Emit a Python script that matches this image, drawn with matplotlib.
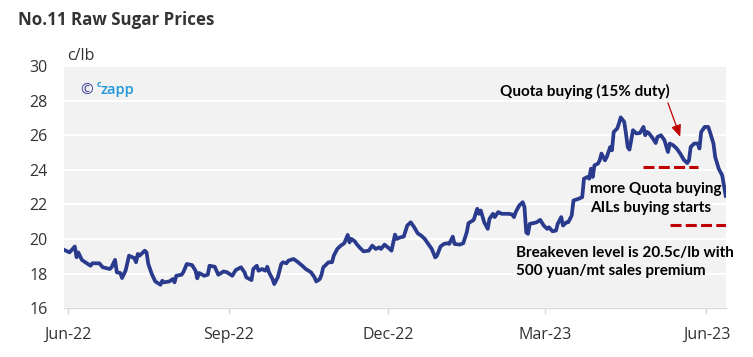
import matplotlib
matplotlib.use("Agg")
import matplotlib.pyplot as plt
import matplotlib.dates as mdates
import pandas as pd

# ---------------- data ----------------
dates = [
    "2022-05-30", "2022-06-02", "2022-06-05", "2022-06-06", "2022-06-07", "2022-06-09",
    "2022-06-11", "2022-06-14", "2022-06-15", "2022-06-19", "2022-06-21", "2022-06-25",
    "2022-06-26", "2022-06-28", "2022-06-29", "2022-07-01", "2022-07-02", "2022-07-04",
    "2022-07-06", "2022-07-09", "2022-07-10", "2022-07-11", "2022-07-12", "2022-07-15",
    "2022-07-16", "2022-07-17", "2022-07-19", "2022-07-21", "2022-07-24", "2022-07-25",
    "2022-07-26", "2022-07-29", "2022-07-31", "2022-08-01", "2022-08-02", "2022-08-05",
    "2022-08-06", "2022-08-08", "2022-08-11", "2022-08-13", "2022-08-14", "2022-08-15",
    "2022-08-18", "2022-08-20", "2022-08-21", "2022-08-24", "2022-08-26", "2022-08-29",
    "2022-08-31", "2022-09-03", "2022-09-05", "2022-09-08", "2022-09-10", "2022-09-11",
    "2022-09-14", "2022-09-15", "2022-09-17", "2022-09-18", "2022-09-20", "2022-09-22",
    "2022-09-23", "2022-09-24", "2022-09-26", "2022-09-27", "2022-09-29", "2022-10-01",
    "2022-10-02", "2022-10-04", "2022-10-05", "2022-10-08", "2022-10-10", "2022-10-13",
    "2022-10-15", "2022-10-18", "2022-10-20", "2022-10-21", "2022-10-23", "2022-10-24",
    "2022-10-25", "2022-10-26", "2022-10-28", "2022-10-30", "2022-10-31", "2022-11-02",
    "2022-11-04", "2022-11-06", "2022-11-08", "2022-11-09", "2022-11-10", "2022-11-12",
    "2022-11-13", "2022-11-15", "2022-11-17", "2022-11-20", "2022-11-22", "2022-11-24",
    "2022-11-26", "2022-11-27", "2022-11-29", "2022-12-02", "2022-12-03", "2022-12-05",
    "2022-12-06", "2022-12-08", "2022-12-10", "2022-12-12", "2022-12-14", "2022-12-16",
    "2022-12-18", "2022-12-20", "2022-12-22", "2022-12-24", "2022-12-26", "2022-12-28",
    "2022-12-29", "2022-12-31", "2023-01-02", "2023-01-04", "2023-01-05", "2023-01-07",
    "2023-01-08", "2023-01-11", "2023-01-13", "2023-01-15", "2023-01-16", "2023-01-19",
    "2023-01-21", "2023-01-22", "2023-01-23", "2023-01-25", "2023-01-27", "2023-01-28",
    "2023-01-30", "2023-01-31", "2023-02-02", "2023-02-04", "2023-02-08", "2023-02-10",
    "2023-02-11", "2023-02-12", "2023-02-14", "2023-02-16", "2023-02-17", "2023-02-18",
    "2023-02-19", "2023-02-20", "2023-02-22", "2023-02-24", "2023-02-26", "2023-02-28",
    "2023-03-02", "2023-03-03", "2023-03-05", "2023-03-07", "2023-03-08", "2023-03-10",
    "2023-03-11", "2023-03-13", "2023-03-14", "2023-03-16", "2023-03-17", "2023-03-20",
    "2023-03-22", "2023-03-23", "2023-03-25", "2023-03-26", "2023-03-27", "2023-03-28",
    "2023-03-29", "2023-03-31", "2023-04-01", "2023-04-02", "2023-04-04", "2023-04-05",
    "2023-04-07", "2023-04-08", "2023-04-09", "2023-04-11", "2023-04-12", "2023-04-13",
    "2023-04-15", "2023-04-16", "2023-04-17", "2023-04-18", "2023-04-19", "2023-04-20",
    "2023-04-22", "2023-04-24", "2023-04-26", "2023-04-27", "2023-04-28", "2023-04-29",
    "2023-05-01", "2023-05-03", "2023-05-04", "2023-05-06", "2023-05-08", "2023-05-10",
    "2023-05-11", "2023-05-13", "2023-05-15", "2023-05-17", "2023-05-19", "2023-05-21",
    "2023-05-22", "2023-05-23", "2023-05-25", "2023-05-27", "2023-05-28", "2023-05-29",
    "2023-05-31", "2023-06-02", "2023-06-03", "2023-06-05", "2023-06-06", "2023-06-08",
    "2023-06-10", "2023-06-11", "2023-06-12",
]
prices = [
    19.37, 19.23, 19.57, 18.95, 19.23, 18.80,
    18.66, 18.46, 18.60, 18.60, 18.37, 18.27,
    18.37, 18.80, 18.08, 18.04, 17.75, 18.17,
    19.04, 18.90, 18.66, 19.14, 19.04, 19.33,
    19.23, 18.56, 17.98, 17.55, 17.36, 17.59,
    17.50, 17.55, 17.69, 17.50, 17.88, 17.94,
    18.08, 18.56, 18.50, 18.17, 17.73, 18.04,
    17.88, 17.94, 18.46, 18.40, 17.94, 18.13,
    18.08, 17.88, 18.21, 18.37, 18.08, 17.79,
    17.63, 18.27, 18.46, 18.17, 18.27, 18.17,
    18.40, 18.08, 17.69, 17.40, 17.79, 18.56,
    18.66, 18.60, 18.75, 18.85, 18.71, 18.46,
    18.27, 18.08, 17.79, 17.55, 17.69, 17.94,
    18.37, 18.46, 18.66, 18.66, 19.04, 19.43,
    19.62, 19.76, 20.24, 19.81, 20.01, 19.87,
    19.72, 19.49, 19.29, 19.33, 19.62, 19.43,
    19.52, 19.43, 19.68, 19.43, 19.33, 20.26,
    20.01, 20.10, 20.14, 20.78, 20.97, 20.68,
    20.33, 20.20, 20.01, 19.72, 19.43, 18.94,
    19.04, 19.57, 19.72, 19.76, 19.72, 20.14,
    19.72, 19.68, 19.76, 20.39, 20.92, 21.11,
    21.75, 21.46, 21.65, 20.97, 20.59, 21.17,
    21.46, 21.27, 21.56, 21.46, 21.46, 21.42,
    21.27, 21.56, 21.94, 22.13, 21.84, 20.39,
    20.30, 20.88, 20.92, 20.97, 21.11, 20.78,
    20.59, 20.68, 20.45, 20.49, 20.88, 21.27,
    20.78, 20.97, 20.97, 21.36, 22.23, 22.33,
    22.42, 23.49, 23.59, 23.49, 24.07, 23.59,
    24.26, 24.36, 24.55, 24.94, 24.55, 24.74,
    25.32, 25.13, 26.19, 26.39, 26.68, 27.03,
    26.77, 26.10, 25.32, 25.17, 25.71, 26.29,
    26.10, 26.13, 26.48, 26.00, 26.19, 26.13,
    25.87, 25.55, 25.90, 26.00, 25.71, 25.03,
    25.52, 25.42, 25.23, 24.94, 24.59, 24.39,
    24.55, 25.32, 25.52, 25.52, 25.23, 26.19,
    26.48, 26.48, 26.19, 25.52, 24.74, 24.07,
    23.68, 23.10, 22.50,
]

# reference levels (dashed red lines)
quota_level = 24.16
quota_span = ["2023-04-26", "2023-05-27"]
breakeven_level = 20.84
breakeven_span = ["2023-05-11", "2023-06-12"]

# arrow annotation (start, end) in data
arrow_start = ("2023-05-10", 27.86)
arrow_end = ("2023-05-17", 25.91)

xtick_dates = ["2022-06-01", "2022-09-01", "2022-12-01", "2023-03-01", "2023-06-01"]
xtick_labels = ["Jun-22", "Sep-22", "Dec-22", "Mar-23", "Jun-23"]
yticks = [16, 18, 20, 22, 24, 26, 28, 30]

title = "No.11 Raw Sugar Prices"
unit = "c/lb"
note_quota = "Quota buying (15% duty)"
note_more = ["more Quota buying", "AILs buying starts"]
note_breakeven = ["Breakeven level is 20.5c/lb with", "500 yuan/mt sales premium"]

# ---------------- figure ----------------
plt.rcParams['font.family'] = ['Open Sans', 'DejaVu Sans']

fig = plt.figure(figsize=(7.53, 3.57), dpi=100)
ax = fig.add_axes([64.3 / 753, 48.7 / 357, (725.7 - 64.3) / 753, (308.3 - 66) / 357])
ax.set_facecolor("#f2f2f2")

x = pd.to_datetime(dates)
ax.plot(x, prices, color="#2a3a8c", lw=2.7, solid_joinstyle="round", zorder=3)

ax.set_xlim(pd.Timestamp(dates[0]), pd.Timestamp(dates[-1]))
ax.set_ylim(16, 30)
ax.set_yticks(yticks)
ax.set_xticks(pd.to_datetime(xtick_dates))
ax.set_xticklabels(xtick_labels)

ax.grid(axis="y", color="white", lw=1.4, zorder=1)
ax.set_axisbelow(True)
for s in ["top", "right", "left"]:
    ax.spines[s].set_visible(False)
ax.spines["bottom"].set_color("#d9d9d9")
ax.spines["bottom"].set_linewidth(1.0)
ax.tick_params(axis="y", length=0, pad=12, labelsize=11.5, labelcolor="#333333")
ax.tick_params(axis="x", length=4.5, width=1.0, color="#d9d9d9", pad=9,
               labelsize=11.5, labelcolor="#333333")

# dashed reference lines
ax.plot(pd.to_datetime(quota_span), [quota_level, quota_level], color="#c00000",
        lw=2.2, linestyle=(0, (3.6, 1.4)), dash_capstyle="butt", zorder=4)
ax.plot(pd.to_datetime(breakeven_span), [breakeven_level, breakeven_level], color="#c00000",
        lw=2.2, linestyle=(0, (3.6, 1.4)), dash_capstyle="butt", zorder=4)

# arrow
ax.annotate("", xy=(mdates.date2num(pd.Timestamp(arrow_end[0])), arrow_end[1]),
            xytext=(mdates.date2num(pd.Timestamp(arrow_start[0])), arrow_start[1]),
            arrowprops=dict(arrowstyle="-|>,head_length=0.7,head_width=0.3",
                            color="#c00000", lw=0.9, shrinkA=0, shrinkB=0), zorder=5)

# texts
nfont = dict(family=["Lato", "DejaVu Sans"], fontweight="bold", color="black", fontsize=11)
ax.text(0.659, 0.876, note_quota, transform=ax.transAxes, va="baseline", ha="left", **nfont)
ax.text(0.795, 0.476, note_more[0], transform=ax.transAxes, va="baseline", ha="left", **nfont)
ax.text(0.795, 0.399, note_more[1], transform=ax.transAxes, va="baseline", ha="left", **nfont)
ax.text(0.683, 0.213, note_breakeven[0], transform=ax.transAxes, va="baseline", ha="left", **nfont)
ax.text(0.683, 0.137, note_breakeven[1], transform=ax.transAxes, va="baseline", ha="left", **nfont)

# unit label
ax.text(0.005, 1.025, unit, transform=ax.transAxes, va="baseline", ha="left",
        fontsize=11.5, color="#333333")

# logo
ax.text(0.0237, 0.884, "\u00a9", transform=ax.transAxes, va="baseline", ha="left",
        fontsize=11, color="#3b3f96")
ax.text(0.0487, 0.912, "c", transform=ax.transAxes, va="baseline", ha="left",
        fontsize=6.5, color="#2196d8", fontweight="bold")
ax.text(0.054, 0.884, "zapp", transform=ax.transAxes, va="baseline", ha="left",
        fontsize=10.5, color="#2196d8", fontweight="semibold")

# title
fig.text(18 / 753, 1 - 25 / 357, title, ha="left", va="baseline",
         fontsize=12.2, fontweight="bold", color="#333333")

fig.savefig("out.png", dpi=100, facecolor="white")
